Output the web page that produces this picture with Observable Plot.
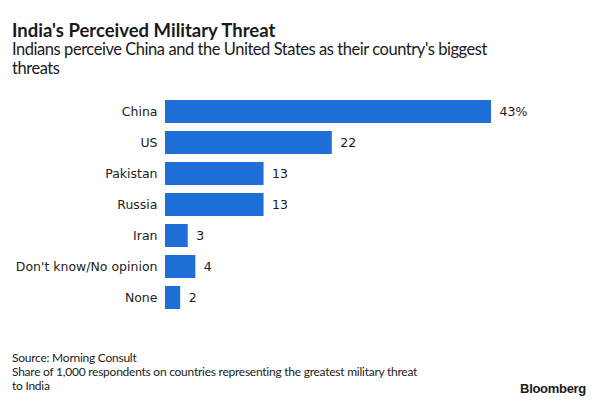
<!DOCTYPE html>
<html>
<head>
<meta charset="utf-8">
<script src="https://cdn.jsdelivr.net/npm/d3@7"></script>
<script src="https://cdn.jsdelivr.net/npm/@observablehq/plot@0.6"></script>
<style>
  body { margin: 0; background: #fff; font-family: Lato, sans-serif; color: #1a1a1a; }
  #wrap { width: 600px; height: 403px; position: relative; overflow: hidden; }
  #title { position: absolute; left: 12px; top: 20px; font-size: 18.5px; font-weight: bold; line-height: 20px; }
  #subtitle { position: absolute; left: 12px; top: 40px; font-size: 16.5px; line-height: 19px; width: 560px; letter-spacing: -0.45px; }
  #chart { position: absolute; left: 0; top: 80px; }
  #footer { position: absolute; left: 12px; top: 351px; font-size: 12px; line-height: 14px; width: 470px; color: #222; letter-spacing: -0.25px; }
  #brand { position: absolute; right: 14px; top: 381px; font-family: "Liberation Sans", Arial, sans-serif; font-weight: bold; font-size: 13px; letter-spacing: -0.3px; }
</style>
</head>
<body>
<div id="wrap">
  <div id="title">India's Perceived Military Threat</div>
  <div id="subtitle">Indians perceive China and the United States as their country's biggest<br>threats</div>
  <div id="chart"></div>
  <div id="footer">Source: Morning Consult<br>Share of 1,000 respondents on countries representing the greatest military threat<br>to India</div>
  <div id="brand">Bloomberg</div>
</div>
<script>
const categories = ["China", "US", "Pakistan", "Russia", "Iran", "Don't know/No opinion", "None"];
const values = [43, 22, 13, 13, 3, 4, 2];
const valueLabels = ["43%", "22", "13", "13", "3", "4", "2"];

const data = categories.map((c, i) => ({category: c, value: values[i], label: valueLabels[i]}));

const chart = Plot.plot({
  width: 600,
  height: 265,
  marginLeft: 165,
  marginRight: 109,
  marginTop: 12,
  marginBottom: 28,
  style: {fontFamily: "DejaVu Sans, sans-serif", fontSize: "12.5px", color: "#222", background: "transparent"},
  x: {domain: [0, 43], axis: null},
  y: {domain: categories, padding: 0.25, label: null, tickSize: 0, tickPadding: 8},
  marks: [
    Plot.barX(data, {x: "value", y: "category", fill: "#1f6fd9"}),
    Plot.text(data, {x: "value", y: "category", text: "label", textAnchor: "start", dx: 8, fontSize: 12.5, fill: "#1a1a1a"})
  ]
});
document.getElementById("chart").appendChild(chart);
</script>
</body>
</html>
